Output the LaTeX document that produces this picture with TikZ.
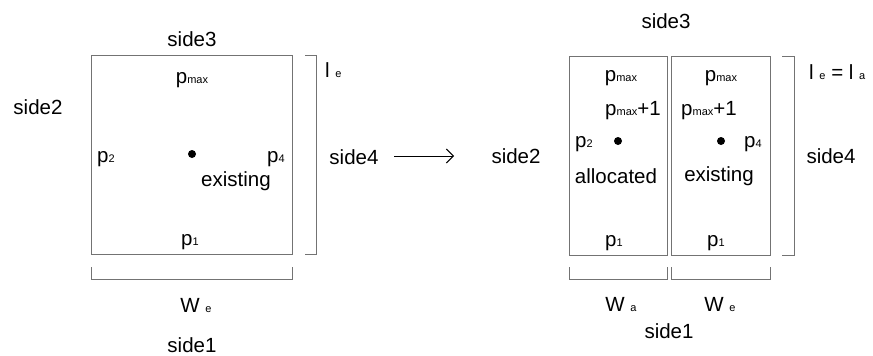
\documentclass[tikz,border=0pt]{standalone}
\usepackage{fontspec}
\setmainfont{Liberation Sans}
\usetikzlibrary{arrows.meta}
\newcommand{\sm}[1]{{\fontsize{11}{12}\selectfont #1}}
\begin{document}
\begin{tikzpicture}[x=1pt,y=-1pt,
  lbl/.style={inner sep=0pt,font=\fontsize{20.5}{24}\selectfont},
  boxline/.style={draw=black!55,line width=1pt},
  brk/.style={draw=black!55,line width=1pt},
  dotmark/.style={circle,fill=black,inner sep=0pt,minimum size=8pt}]
\useasboundingbox (0,0) rectangle (873,356);
% ---------- left part ----------
\node[boxline,minimum width=201pt,minimum height=199pt,inner sep=0pt] (boxL) at (191.5,154.5) {};
\node[lbl] (s3L) at (192,39) {side3};
\node[lbl] (s2L) at (38,107) {side2};
\node[lbl] (s4L) at (354,157) {side4};
\node[lbl] (s1L) at (192,345) {side1};
\node[lbl] (pmaxL) at (192,80) {p\sm{max}};
\node[lbl] (p2L) at (106,159) {p\sm{2}};
\node[lbl] (p4L) at (276,159) {p\sm{4}};
\node[lbl] (exL) at (236,181) {existing};
\node[lbl] (p1L) at (190,242) {p\sm{1}};
\node[dotmark] (dotL) at (192,154) {};
\node[lbl,anchor=west] (leL) at (325,70) {l \sm{e}};
\node[lbl] (weL) at (196,305) {W \sm{e}};
\draw[brk] (305,55) -- (316,55) -- (316,254) -- (305,254);
\draw[brk] (91,267) -- (91,279) -- (292,279) -- (292,267);
% arrow
\coordinate (arrS) at (394,156);
\coordinate (arrE) at (454,156);
\draw[line width=1pt,-{Straight Barb[length=7pt,width=14pt]}] (arrS) -- (arrE);
% ---------- right part ----------
\node[boxline,minimum width=98pt,minimum height=199pt,inner sep=0pt] (boxA) at (618,155.5) {};
\node[boxline,minimum width=99pt,minimum height=199pt,inner sep=0pt] (boxE) at (720.5,155.5) {};
\node[lbl] (s3R) at (666,21) {side3};
\node[lbl] (s2R) at (516,156) {side2};
\node[lbl] (s4R) at (831,156) {side4};
\node[lbl] (s1R) at (669,331) {side1};
\node[lbl] (pmaxA) at (621,78) {p\sm{max}};
\node[lbl] (pmaxE) at (721,78) {p\sm{max}};
\node[lbl] (pm1A) at (633,111) {p\sm{max}+1};
\node[lbl] (pm1E) at (709,111) {p\sm{max}+1};
\node[lbl] (p2R) at (584,144) {p\sm{2}};
\node[lbl] (p4R) at (753,144) {p\sm{4}};
\node[dotmark] (dotA) at (618,141) {};
\node[dotmark] (dotE) at (721,141) {};
\node[lbl] (alA) at (616,176) {allocated};
\node[lbl] (exE) at (719,176) {existing};
\node[lbl] (p1A) at (614,243) {p\sm{1}};
\node[lbl] (p1E) at (716,243) {p\sm{1}};
\node[lbl,anchor=west] (leR) at (809,72) {l \sm{e} = l \sm{a}};
\node[lbl] (waR) at (621,304) {W \sm{a}};
\node[lbl] (weR) at (720,304) {W \sm{e}};
\draw[brk] (782,56) -- (794,56) -- (794,255) -- (782,255);
\draw[brk] (569,267) -- (569,279) -- (667,279) -- (667,267);
\draw[brk] (671,267) -- (671,279) -- (770,279) -- (770,267);
\end{tikzpicture}
\end{document}
